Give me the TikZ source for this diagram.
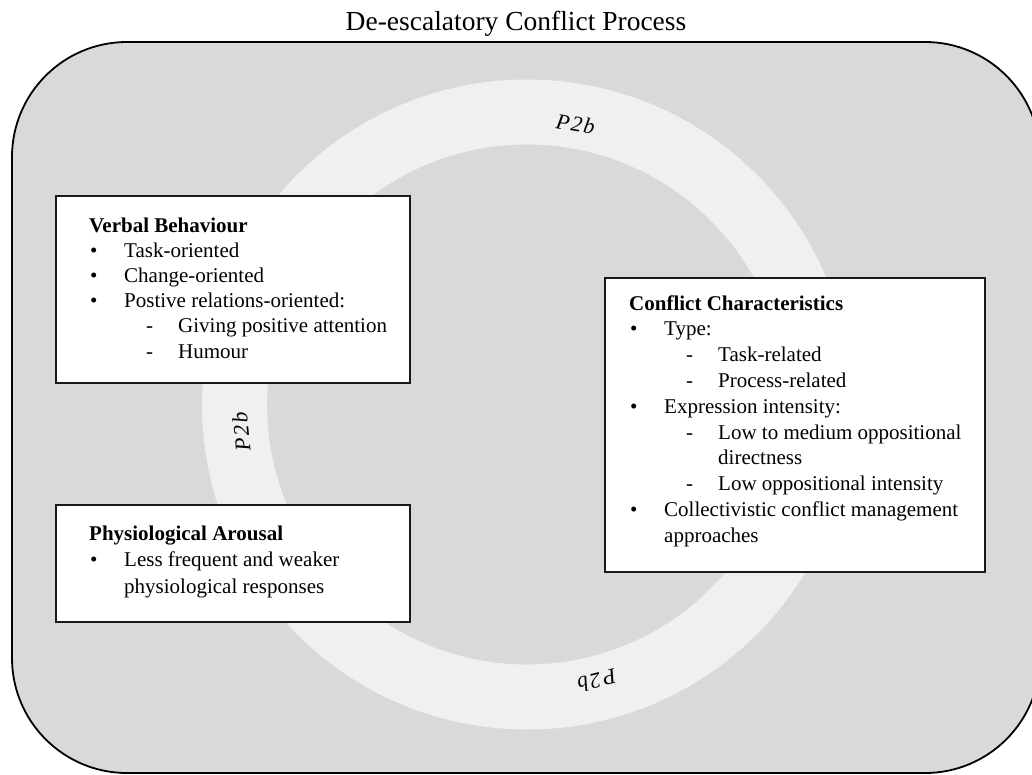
\documentclass[tikz,border=0pt]{standalone}
\usepackage{fontspec}
\setmainfont{Liberation Serif}
\definecolor{panelgray}{HTML}{D9D9D9}
\definecolor{ringgray}{HTML}{F0F0F0}
\newcommand{\bulletline}[1]{\makebox[35pt][l]{\hspace{1pt}\textbullet}#1}
\newcommand{\dashline}[1]{\hspace{57pt}\makebox[32pt][l]{-}#1}
\newcommand{\wrapline}[1]{\hspace{89pt}#1}
\newcommand{\ringtag}{P\kern2pt 2\kern1.5pt b}
\begin{document}
\begin{tikzpicture}[x=1pt,y=-1pt]
\tikzset{
  frame/.style={draw=black, line width=1.8pt, fill=panelgray, rounded corners=115pt},
  panel/.style={draw=black!90, line width=1.5pt, fill=white},
  listtext/.style={anchor=base west, inner sep=0pt, align=left},
  ringlabel/.style={inner sep=0pt, font=\fontsize{22}{22}\selectfont\itshape},
}
\useasboundingbox (0,0) rectangle (1032,774);
\begin{scope}
\clip (0,0) rectangle (1032,774);
% outer process panel
\path[frame] (12,42) rectangle (1040,773);
% circular process ring
\fill[ringgray, even odd rule] (527,404.5) circle (325) (527,404.5) circle (260);
\end{scope}

% title
\node[anchor=base, inner sep=0pt, font=\fontsize{27.5}{27.5}\selectfont] (title) at (516,30) {De-escalatory Conflict Process};

% ring labels
\node[ringlabel, rotate=-9.8] (ptop) at (575.5,124) {\ringtag};
\node[ringlabel, rotate=95.5] (pleft) at (241.3,432) {\ringtag};
\node[ringlabel, rotate=-165.8] (pbottom) at (597,681) {\ringtag};

% boxes
\path[panel] (56,196) rectangle (410,383) node[coordinate] (verbal) {};
\path[panel] (56,505) rectangle (410,622) node[coordinate] (arousal) {};
\path[panel] (605,278) rectangle (985,572) node[coordinate] (conflict) {};

\node[listtext, font=\fontsize{21}{25.2}\selectfont] (verbaltext) at (89,232) {%
\begin{tabular}[t]{@{}l@{}}
\textbf{Verbal Behaviour}\\
\bulletline{Task-oriented}\\
\bulletline{Change-oriented}\\
\bulletline{Postive relations-oriented:}\\
\dashline{Giving positive attention}\\
\dashline{Humour}
\end{tabular}};

\node[listtext, font=\fontsize{21}{26.5}\selectfont] (arousaltext) at (89,540) {%
\begin{tabular}[t]{@{}l@{}}
\textbf{Physiological Arousal}\\
\bulletline{Less frequent and weaker}\\
\hspace{35pt}physiological responses
\end{tabular}};

\node[listtext, font=\fontsize{21}{25.8}\selectfont] (conflicttext) at (629,310) {%
\begin{tabular}[t]{@{}l@{}}
\textbf{Conflict Characteristics}\\
\bulletline{Type:}\\
\dashline{Task-related}\\
\dashline{Process-related}\\
\bulletline{Expression intensity:}\\
\dashline{Low to medium oppositional}\\
\wrapline{directness}\\
\dashline{Low oppositional intensity}\\
\bulletline{Collectivistic conflict management}\\
\hspace{35pt}approaches
\end{tabular}};
\end{tikzpicture}
\end{document}
